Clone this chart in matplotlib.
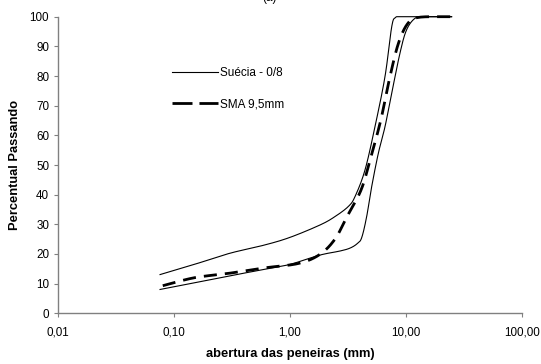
import numpy as np
import matplotlib
matplotlib.use("Agg")
import matplotlib.pyplot as plt
from matplotlib.lines import Line2D

plt.rcParams['font.family'] = ['Liberation Sans', 'DejaVu Sans']

# Data
upper_x = [0.075, 0.15, 0.3, 0.6, 1.0, 1.82, 2.44, 3.18, 3.63, 4.43, 5.4, 6.59, 7.53, 8.1, 9.0, 12, 25]
upper_y = [13, 16.5, 20.2, 23, 25.6, 29.8, 32.6, 36, 39.3, 48.3, 62.9, 79.8, 96.6, 99.7, 100, 100, 100]

lower_x = [0.075, 0.3, 0.6, 1.0, 1.8, 2.7, 3.3, 3.8, 4.15, 4.58, 5.06, 5.77, 6.59, 7.53, 8.87, 10.1, 12, 14.6, 25]
lower_y = [8, 12.6, 14.8, 16.5, 19.6, 21, 22, 23.5, 25.5, 32.6, 42.7, 53.9, 62.9, 74.2, 87.7, 95.5, 99.5, 100, 100]

sma_x = [0.08, 0.15, 0.3, 0.6, 1.18, 1.8, 2.44, 3.1, 4.1, 4.9, 6.05, 7.2, 8.6, 10.4, 13, 25]
sma_y = [9.3, 12, 13.5, 15.3, 16.8, 19.8, 25, 32.6, 41.6, 51.7, 65, 79, 91, 97.8, 99.8, 100]

x_ticks = [0.01, 0.1, 1, 10, 100]
x_tick_labels = ['0,01', '0,10', '1,00', '10,00', '100,00']
y_ticks = list(range(0, 101, 10))

legend_labels = ['Suécia - 0/8', 'SMA 9,5mm']


def smooth(xs, ys, n=30):
    # Excel-like smoothing (Catmull-Rom / Bezier) in display-ish space
    u = np.log10(np.asarray(xs, float)) * 116.0
    v = np.asarray(ys, float) * 2.966
    P = np.column_stack([u, v])
    pts = []
    for i in range(len(P) - 1):
        p0 = P[i - 1] if i > 0 else P[i]
        p1 = P[i]
        p2 = P[i + 1]
        p3 = P[i + 2] if i + 2 < len(P) else P[i + 1]
        c1 = p1 + (p2 - p0) / 6.0
        c2 = p2 - (p3 - p1) / 6.0
        t = np.linspace(0, 1, n, endpoint=(i == len(P) - 2))[:, None]
        b = ((1 - t) ** 3) * p1 + 3 * ((1 - t) ** 2) * t * c1 + 3 * (1 - t) * t ** 2 * c2 + t ** 3 * p2
        pts.append(b)
    pts = np.vstack(pts)
    x = 10 ** (pts[:, 0] / 116.0)
    y = np.minimum(pts[:, 1] / 2.966, 100.0)
    return x, y


fig = plt.figure(figsize=(5.41, 3.64), dpi=100)
ax = fig.add_axes([58 / 541, (364 - 313.3) / 364, 464 / 541, 296.6 / 364])

ux, uy = smooth(upper_x, upper_y)
lx, ly = smooth(lower_x, lower_y)
sx, sy = smooth(sma_x, sma_y)

ax.plot(ux, uy, color='black', lw=0.8, solid_capstyle='butt', clip_on=False)
ax.plot(lx, ly, color='black', lw=0.8, solid_capstyle='butt', clip_on=False)
ax.plot(sx, sy, color='black', lw=2.0, dashes=(4.7, 2.9), dash_capstyle='butt', clip_on=False)

ax.set_xscale('log')
ax.set_xlim(0.01, 100)
ax.set_ylim(0, 100)
ax.set_xticks(x_ticks)
ax.set_xticklabels(x_tick_labels)
ax.xaxis.set_minor_locator(matplotlib.ticker.NullLocator())
ax.set_yticks(y_ticks)

for s in ['top', 'right']:
    ax.spines[s].set_visible(False)
for s in ['left', 'bottom']:
    ax.spines[s].set_color('#808080')
    ax.spines[s].set_linewidth(1.0)

ax.tick_params(axis='both', direction='out', length=3, width=0.8, color='#808080',
               labelsize=8.4, labelcolor='black')
ax.tick_params(axis='x', pad=6.5)
ax.tick_params(axis='y', pad=3.4)

ax.set_xlabel('abertura das peneiras (mm)', fontsize=9.3, fontweight='bold', labelpad=6.5)
ax.set_ylabel('Percentual Passando', fontsize=9.3, fontweight='bold', labelpad=6)

handles = [Line2D([], [], color='black', lw=0.8),
           Line2D([], [], color='black', lw=2.0, dashes=(7.2, 2.5), dash_capstyle='butt')]
ax.legend(handles, legend_labels, loc='upper left', bbox_to_anchor=(0.245, 0.831),
          frameon=False, fontsize=8.5, handlelength=3.9, handletextpad=0.17,
          labelspacing=1.65, borderpad=0, borderaxespad=0)

fig.text(0.499, 1 - 0.5 / 364, '(a)', ha='center', va='baseline', fontsize=8.5)

fig.savefig('out.png', dpi=100)
